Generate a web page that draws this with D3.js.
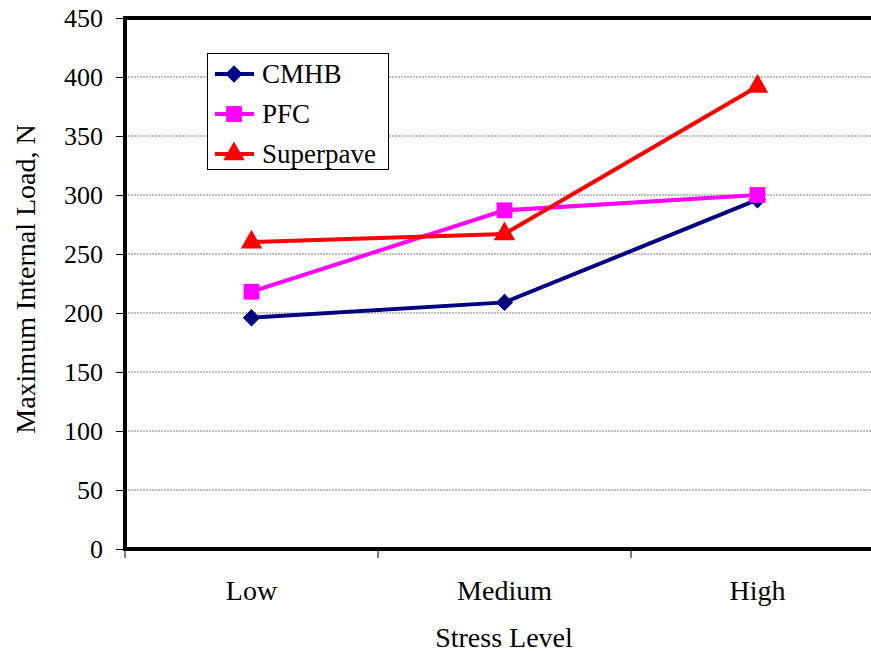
<!DOCTYPE html>
<html>
<head>
<meta charset="utf-8">
<script src="https://cdn.jsdelivr.net/npm/d3@7"></script>
<style>
  body { margin: 0; background: #fff; }
  text { font-family: "Liberation Serif", "Times New Roman", serif; fill: #000; }
</style>
</head>
<body>
<svg id="chart" width="871" height="653"></svg>
<script>
// data
var levels = ["Low", "Medium", "High"]
var cmhb = [196, 209, 296]
var pfc = [218, 287, 300]
var superpave = [260, 267, 392]
var yTicks = [0, 50, 100, 150, 200, 250, 300, 350, 400, 450]

var series = [
  { name: "CMHB", values: cmhb, color: "#000080", symbol: d3.symbolSquare, size: 150, rot: 45 },
  { name: "PFC", values: pfc, color: "#ff00ff", symbol: d3.symbolSquare, size: 250, rot: 0 },
  { name: "Superpave", values: superpave, color: "#ff0000", symbol: d3.symbolTriangle, size: 200, rot: 0 }
]

var svg = d3.select("#chart")
var plot = { left: 125, top: 18, bottom: 549, right: 884 }

var x = d3.scaleBand().domain(levels).range([plot.left, plot.right])
var y = d3.scaleLinear().domain([0, 450]).range([plot.bottom, plot.top])

// grid lines
svg.append("g").selectAll("line")
  .data(yTicks.slice(1, -1))
  .enter().append("line")
  .attr("x1", plot.left).attr("x2", 871)
  .attr("y1", function (d) { return y(d) }).attr("y2", function (d) { return y(d) })
  .attr("stroke", "#808080").attr("stroke-width", 1).attr("stroke-dasharray", "2,1")

// y axis
var yAxis = svg.append("g")
  .attr("transform", "translate(" + plot.left + ",0)")
  .attr("font-family", null)
  .call(d3.axisLeft(y).tickValues(yTicks).tickSize(9).tickPadding(13))
yAxis.attr("font-family", "Liberation Serif")
yAxis.select(".domain").remove()
yAxis.selectAll("line").attr("stroke", "#000")
yAxis.selectAll("text").style("font-size", "26px").style("font-family", "'Liberation Serif', serif")

// x axis (ticks between categories)
var xAxis = svg.append("g")
  .attr("transform", "translate(0," + plot.bottom + ")")
  .call(d3.axisBottom(x).tickSize(0).tickPadding(31))
xAxis.attr("font-family", "Liberation Serif")
xAxis.select(".domain").remove()
xAxis.selectAll("text").style("font-size", "28px")
svg.append("g").selectAll("line")
  .data(levels)
  .enter().append("line")
  .attr("x1", function (d) { return x(d) }).attr("x2", function (d) { return x(d) })
  .attr("y1", plot.bottom).attr("y2", plot.bottom + 9)
  .attr("stroke", "#000").attr("stroke-width", 1)

// frame
svg.append("path")
  .attr("d", "M871," + plot.top + "H" + plot.left + "V" + plot.bottom + "H871")
  .attr("fill", "none").attr("stroke", "#000").attr("stroke-width", 4)

// series lines and markers
var line = d3.line()
  .x(function (d, i) { return x(levels[i]) + x.bandwidth() / 2 })
  .y(function (d) { return y(d) })

series.forEach(function (s) {
  svg.append("path")
    .datum(s.values)
    .attr("d", line)
    .attr("fill", "none").attr("stroke", s.color).attr("stroke-width", 4)
  svg.append("g").selectAll("path")
    .data(s.values)
    .enter().append("path")
    .attr("d", d3.symbol().type(s.symbol).size(s.size))
    .attr("transform", function (d, i) {
      return "translate(" + (x(levels[i]) + x.bandwidth() / 2) + "," + y(d) + ") rotate(" + s.rot + ")"
    })
    .attr("fill", s.color)
})

// legend
var legend = svg.append("g")
legend.append("rect")
  .attr("x", 207.5).attr("y", 53.5).attr("width", 181).attr("height", 116)
  .attr("fill", "#fff").attr("stroke", "#000").attr("stroke-width", 1)
series.forEach(function (s, i) {
  var ly = 74 + i * 40
  legend.append("line")
    .attr("x1", 215).attr("x2", 254).attr("y1", ly).attr("y2", ly)
    .attr("stroke", s.color).attr("stroke-width", 4)
  legend.append("path")
    .attr("d", d3.symbol().type(s.symbol).size(s.size))
    .attr("transform", "translate(234," + ly + ") rotate(" + s.rot + ")")
    .attr("fill", s.color)
  legend.append("text")
    .attr("x", 262).attr("y", ly + 9)
    .style("font-size", "27px")
    .text(s.name)
})

// axis titles
svg.append("text")
  .attr("transform", "translate(35,279) rotate(-90)")
  .attr("text-anchor", "middle")
  .style("font-size", "28px")
  .text("Maximum Internal Load, N")
svg.append("text")
  .attr("x", 504).attr("y", 647)
  .attr("text-anchor", "middle")
  .style("font-size", "28px")
  .text("Stress Level")
</script>
</body>
</html>
